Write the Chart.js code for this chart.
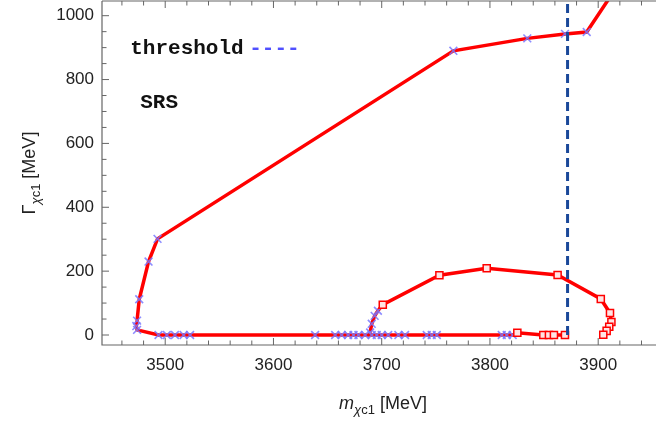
<!DOCTYPE html>
<html>
<head>
<meta charset="utf-8">
<script src="https://cdn.jsdelivr.net/npm/chart.js@4.4.1/dist/chart.umd.min.js"></script>
<style>
  html, body { margin: 0; padding: 0; background: #fff; }
  #wrap { width: 656px; height: 425px; }
</style>
</head>
<body>
<div id="wrap"><canvas id="poleChart"></canvas></div>
<script>
// upper trajectory: comes down from large widths, turns at the left and runs along the real axis
var outerMass  = [3925, 3889.4, 3869.3, 3834.5, 3766.2, 3492.9, 3484.6, 3476.0, 3474.0, 3473.3, 3474.0, 3493.8,
                  3501.5, 3509, 3517, 3523, 3638.5, 3657, 3663, 3669, 3674, 3678.5, 3684.7, 3690.8, 3695.4, 3700,
                  3706, 3715.4, 3721.6, 3741.6, 3746.2, 3750.9, 3810.9, 3815.5, 3821, 3825.3, 3849.3, 3854.5, 3859.1, 3869.3];
var outerWidth = [1130, 949, 943, 929, 890, 301, 230, 112, 45, 28, 16, 0,
                  0, 0, 0, 0, 0, 0, 0, 0, 0, 0, 0, 0, 0, 0,
                  0, 0, 0, 0, 0, 0, 0, 0, 0, 7, 0, 0, 0, 0];
var outerMarker = ['', 'x', 'x', 'x', 'x', 'x', 'x', 'x', 'x', 'x', 'x', 'x',
                   'x', 'x', 'x', 'x', 'x', 'x', 'x', 'x', 'x', 'x', 'x', 'x', 'x', 'x',
                   'x', 'x', 'x', 'x', 'x', 'x', 'x', 'x', 'x', 's', 's', 's', 's', 's'];

// inner loop: leaves the real axis near 3690 MeV and comes back beyond the threshold
var innerMass  = [3689.3, 3690.8, 3693.5, 3696.5, 3701, 3753.3, 3797, 3862.5, 3902.4, 3910.9, 3912.2, 3910.2, 3907.8, 3904.7];
var innerWidth = [8, 35, 60, 76, 95, 187, 209, 188, 113, 69, 41, 26, 13, 1];
var innerMarker = ['x', 'x', 'x', 'x', 's', 's', 's', 's', 's', 's', 's', 's', 's', 's'];

var thresholdMass = 3871.7;
var thresholdWidth = [0, 1100];

var xTickLabels = [3500, 3600, 3700, 3800, 3900];
var yTickLabels = [0, 200, 400, 600, 800, 1000];

// text notes placed in data coordinates
var notes = [
  { text: 'threshold', mass: 3467.7, width: 896, color: '#111' },
  { text: '----', mass: 3577.6, width: 896, color: '#5050ff' },
  { text: 'SRS', mass: 3476.9, width: 727, color: '#111' }
];

var lineRed = '#ff0000';
var crossBlue = 'rgba(120,120,255,0.85)';

function toPoints(xs, ys) {
  return xs.map(function (x, i) { return { x: x, y: ys[i] }; });
}
function styleOf(m) { return m === 's' ? 'rect' : 'crossRot'; }
function radiusOf(m) { return m === '' ? 0 : (m === 's' ? 5 : 5.5); }
function borderOf(m) { return m === 's' ? lineRed : crossBlue; }

function markerSet(markers) {
  return {
    pointStyle: markers.map(styleOf),
    pointRadius: markers.map(radiusOf),
    pointBorderColor: markers.map(borderOf),
    pointBackgroundColor: markers.map(function (m) { return m === 's' ? '#ffe4e4' : crossBlue; }),
    pointBorderWidth: markers.map(function (m) { return m === 's' ? 1.5 : 1.6; })
  };
}

var outerStyle = markerSet(outerMarker);
var innerStyle = markerSet(innerMarker);

// inward ticks on the frame, Mathematica style
var framePlugin = {
  id: 'frame',
  afterDatasetsDraw: function (chart) {
    var ctx = chart.ctx, a = chart.chartArea;
    var xs = chart.scales.x, ys = chart.scales.y;
    ctx.save();
    ctx.strokeStyle = '#666';
    ctx.lineWidth = 1.2;
    ctx.beginPath();
    ctx.moveTo(a.left, a.top); ctx.lineTo(a.left, a.bottom); ctx.lineTo(a.right, a.bottom);
    ctx.moveTo(a.left, a.top); ctx.lineTo(a.right, a.top);
    ctx.stroke();
    ctx.lineWidth = 1;
    ctx.beginPath();
    for (var v = 3440; v <= xs.max; v += 20) {
      if (v < xs.min) continue;
      var px = xs.getPixelForValue(v);
      var len = (v % 100 === 0) ? 7 : 4.5;
      ctx.moveTo(px, a.bottom); ctx.lineTo(px, a.bottom - len);
      ctx.moveTo(px, a.top); ctx.lineTo(px, a.top + len);
    }
    for (var w = 0; w <= ys.max; w += 50) {
      var py = ys.getPixelForValue(w);
      var ylen = (w % 200 === 0) ? 7 : 4.5;
      ctx.moveTo(a.left, py); ctx.lineTo(a.left + ylen, py);
    }
    ctx.stroke();
    ctx.restore();
  },
  afterDraw: function (chart) {
    var ctx = chart.ctx, a = chart.chartArea;
    var xs = chart.scales.x, ys = chart.scales.y;
    ctx.save();
    ctx.textBaseline = 'middle';
    ctx.textAlign = 'left';
    ctx.font = 'bold 21px "Liberation Mono"';
    notes.forEach(function (n) {
      ctx.fillStyle = n.color;
      ctx.fillText(n.text, xs.getPixelForValue(n.mass), ys.getPixelForValue(n.width));
    });

    // axis titles with subscripts
    ctx.fillStyle = '#222';
    ctx.textBaseline = 'alphabetic';
    var big = '18px "Liberation Sans"', small = '13px "Liberation Sans"';
    var parts = function (list) {
      var total = 0;
      list.forEach(function (p) { ctx.font = p.font; p.w = ctx.measureText(p.t).width; total += p.w; });
      return total;
    };
    var xt = [
      { t: 'm', font: 'italic ' + big, dy: 0 },
      { t: '\u03c7', font: 'italic ' + small, dy: 5 },
      { t: 'c1', font: small, dy: 5 },
      { t: ' [MeV]', font: big, dy: 0 }
    ];
    var tw = parts(xt);
    var x0 = 383 - tw / 2;
    xt.forEach(function (p) {
      ctx.font = p.font;
      ctx.fillText(p.t, x0, 409 + p.dy);
      x0 += p.w;
    });

    var yt = [
      { t: '\u0393', font: big, dy: 0 },
      { t: '\u03c7', font: 'italic ' + small, dy: 5 },
      { t: 'c1', font: small, dy: 5 },
      { t: ' [MeV]', font: big, dy: 0 }
    ];
    var th = parts(yt);
    ctx.translate(35, 173);
    ctx.rotate(-Math.PI / 2);
    var y0 = -th / 2;
    yt.forEach(function (p) {
      ctx.font = p.font;
      ctx.fillText(p.t, y0, p.dy);
      y0 += p.w;
    });
    ctx.restore();
  }
};

new Chart(document.getElementById('poleChart'), {
  type: 'line',
  data: {
    datasets: [
      {
        label: 'threshold',
        data: toPoints([thresholdMass, thresholdMass], thresholdWidth),
        borderColor: '#1a4899',
        borderWidth: 3,
        borderDash: [9, 5],
        pointRadius: 0,
        order: 0
      },
      Object.assign({
        label: 'SRS upper',
        data: toPoints(outerMass, outerWidth),
        borderColor: lineRed,
        borderWidth: 3.5,
        tension: 0,
        order: 1
      }, outerStyle),
      Object.assign({
        label: 'SRS loop',
        data: toPoints(innerMass, innerWidth),
        borderColor: lineRed,
        borderWidth: 3.5,
        tension: 0,
        order: 1
      }, innerStyle)
    ]
  },
  plugins: [framePlugin],
  options: {
    responsive: true,
    maintainAspectRatio: false,
    animation: false,
    layout: { autoPadding: false, padding: { left: 0, right: 0, top: 1, bottom: 0 } },
    plugins: {
      legend: { display: false },
      tooltip: { enabled: false }
    },
    scales: {
      x: {
        type: 'linear',
        min: 3441.6,
        max: 3953.4,
        grid: { display: false, drawTicks: false },
        border: { display: false },
        afterFit: function (scale) {
          scale.height = 80;
          scale.paddingLeft = 0;
          scale.paddingRight = 0;
        },
        afterBuildTicks: function (scale) {
          scale.ticks = xTickLabels.map(function (v) { return { value: v }; });
        },
        ticks: {
          padding: 10,
          color: '#222',
          font: { family: 'Liberation Sans', size: 17 },
          maxRotation: 0,
          callback: function (v) { return String(v); }
        }
      },
      y: {
        type: 'linear',
        min: -31.3,
        max: 1046,
        grid: { display: false, drawTicks: false },
        border: { display: false },
        afterFit: function (scale) {
          scale.width = 102;
          scale.paddingTop = 0;
          scale.paddingBottom = 0;
        },
        afterBuildTicks: function (scale) {
          scale.ticks = yTickLabels.map(function (v) { return { value: v }; });
        },
        ticks: {
          padding: 8,
          color: '#222',
          font: { family: 'Liberation Sans', size: 17 },
          callback: function (v) { return String(v); }
        }
      }
    }
  }
});
</script>
</body>
</html>
